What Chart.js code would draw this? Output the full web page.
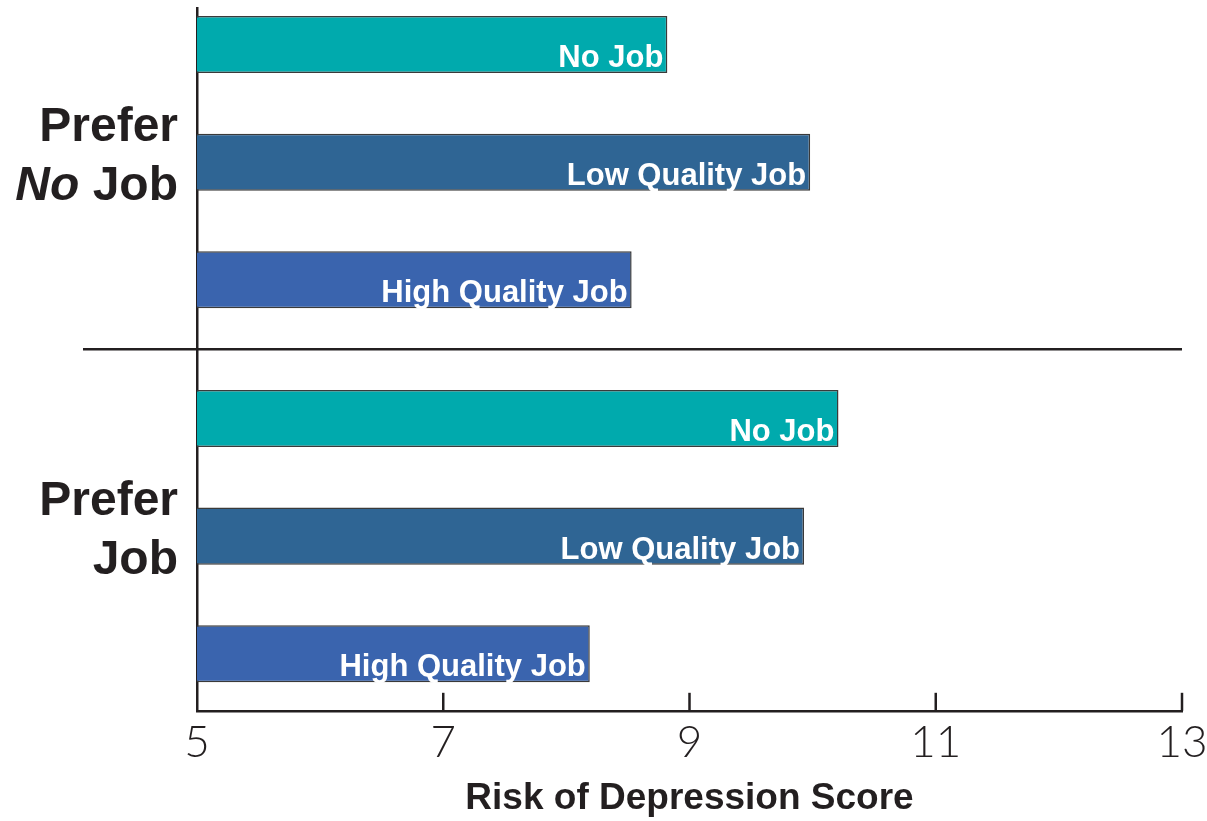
<!DOCTYPE html>
<html>
<head>
<meta charset="utf-8">
<title>Risk of Depression Score</title>
<script src="https://cdn.jsdelivr.net/npm/chart.js@4.4.1/dist/chart.umd.min.js"></script>
<style>
  html, body { margin: 0; padding: 0; background: #fff; }
  #wrap { width: 1207px; height: 821px; }
</style>
</head>
<body>
<div id="wrap"><canvas id="myChart" width="1207" height="821"></canvas></div>
<script>
// groups on the vertical axis (top to bottom)
const groups = ['Prefer No Job', 'Prefer Job'];
// one series per job situation
const seriesNames = ['No Job', 'Low Quality Job', 'High Quality Job'];
const noJob = [8.82, 10.21];
const lowQuality = [9.98, 9.93];
const highQuality = [8.53, 8.19];
const xTicks = [5, 7, 9, 11, 13];

const colors = ['#00aaad', '#2f6594', '#3a64ae'];
const ink = '#231f20';

function toPoints(values) {
    return values.map((v, i) => ({ x: v, y: i }));
}

// inner tick marks, divider line, group names and labels inside bars
const decorations = {
    id: 'decorations',
    afterDatasetsDraw(chart) {
        const ctx = chart.ctx, x = chart.scales.x, y = chart.scales.y, area = chart.chartArea;
        ctx.save();
        ctx.strokeStyle = ink;
        ctx.lineWidth = 2.5;
        xTicks.slice(1).forEach(t => {
            const px = x.getPixelForValue(t);
            ctx.beginPath();
            ctx.moveTo(px, area.bottom);
            ctx.lineTo(px, area.bottom - 18);
            ctx.stroke();
        });
        const mid = y.getPixelForValue((groups.length - 1) / 2);
        ctx.beginPath();
        ctx.moveTo(area.left - 114, mid);
        ctx.lineTo(area.right, mid);
        ctx.stroke();

        // bar labels
        ctx.fillStyle = '#fff';
        ctx.font = 'bold 31px "Liberation Sans", Arial, sans-serif';
        ctx.textAlign = 'right';
        ctx.textBaseline = 'alphabetic';
        chart.data.datasets.forEach((ds, di) => {
            chart.getDatasetMeta(di).data.forEach(bar => {
                ctx.fillText(ds.label, bar.x - 4, bar.y + bar.height / 2 - 6);
            });
        });

        // group names
        ctx.fillStyle = ink;
        const boldFont = 'bold 48px "Liberation Sans", Arial, sans-serif';
        const italicFont = 'italic bold 48px "Liberation Sans", Arial, sans-serif';
        const right = area.left - 19;
        groups.forEach((g, i) => {
            const cy = y.getPixelForValue(i);
            ctx.font = boldFont;
            ctx.fillText('Prefer', right, cy - 21);
            if (g.indexOf('No Job') >= 0) {
                const rest = ' Job';
                ctx.fillText(rest, right, cy + 38);
                const w = ctx.measureText(rest).width;
                ctx.font = italicFont;
                ctx.fillText('No', right - w, cy + 38);
            } else {
                ctx.fillText('Job', right, cy + 38);
            }
        });
        ctx.restore();
    }
};

const ctx = document.getElementById('myChart').getContext('2d');

const myChart = new Chart(ctx, {
    type: 'bar',
    data: {
        datasets: [noJob, lowQuality, highQuality].map((vals, i) => ({
            label: seriesNames[i],
            data: toPoints(vals),
            backgroundColor: colors[i],
            borderColor: '#3a3a3a',
            borderWidth: 1.5,
            borderSkipped: false,
            categoryPercentage: 0.944,
            barPercentage: 0.485
        }))
    },
    options: {
        indexAxis: 'y',
        responsive: false,
        animation: false,
        layout: { padding: { left: 197, right: 25, top: 8, bottom: 0 } },
        plugins: {
            legend: { display: false },
            tooltip: { enabled: false }
        },
        scales: {
            x: {
                type: 'linear',
                min: 5,
                max: 13,
                afterBuildTicks: axis => { axis.ticks = xTicks.map(v => ({ value: v })); },
                // let the last tick label hang into the right margin
                afterFit: axis => { axis.paddingRight = 0; axis.paddingLeft = 0; },
                grid: { display: false, drawTicks: false },
                border: { display: true, color: ink, width: 2.5 },
                ticks: {
                    padding: 6,
                    color: ink,
                    font: { family: 'Lato, "Open Sans", sans-serif', size: 44, weight: '300' }
                },
                title: {
                    display: true,
                    text: 'Risk of Depression Score',
                    color: ink,
                    padding: { top: 1, bottom: 0 },
                    font: { family: '"Liberation Sans", Arial, sans-serif', size: 37, weight: 'bold' }
                }
            },
            y: {
                type: 'linear',
                reverse: true,
                offset: false,
                min: -0.4123,
                max: 1.4672,
                // one tick per group so the bar width follows the group spacing
                afterBuildTicks: axis => { axis.ticks = groups.map((g, i) => ({ value: i })); },
                grid: { display: false, drawTicks: false },
                border: { display: true, color: ink, width: 2.5 },
                ticks: { display: false }
            }
        }
    },
    plugins: [decorations]
});
</script>
</body>
</html>
